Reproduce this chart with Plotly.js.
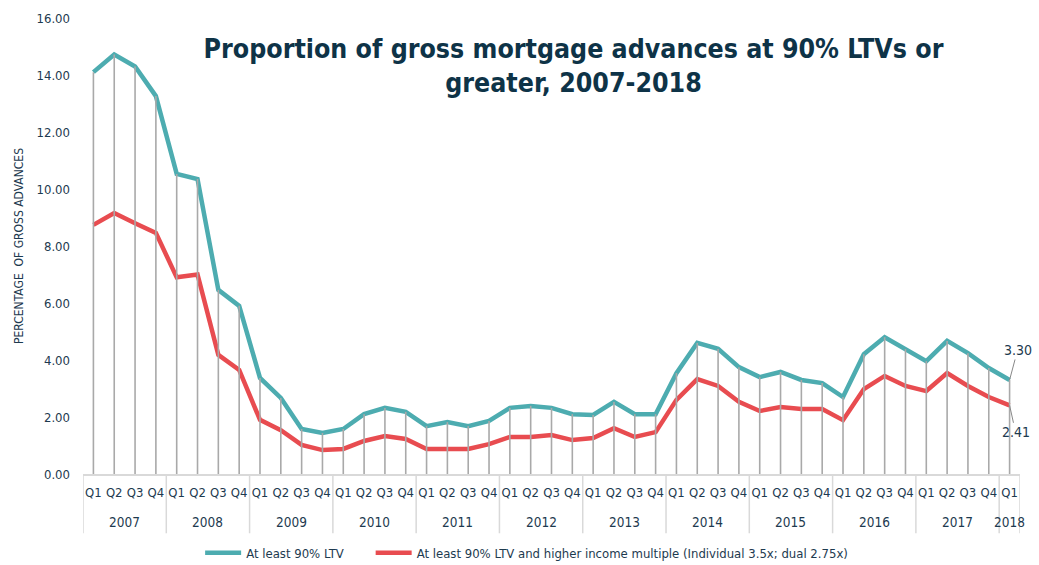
<!DOCTYPE html>
<html>
<head>
<meta charset="utf-8">
<script src="https://cdn.plot.ly/plotly-3.0.1.min.js"></script>
<style>html,body{margin:0;padding:0;background:#fff;}#chart{width:1039px;height:565px;}</style>
</head>
<body>
<div id="chart"></div>
<script>
const years = ["2007","2008","2009","2010","2011","2012","2013","2014","2015","2016","2017","2018"];
const quarters = ["Q1","Q2","Q3","Q4"];
const ltv90 = [14.10,14.72,14.30,13.26, 10.53,10.35,6.46,5.90, 3.37,2.67,1.58,1.44, 1.58,2.10,2.32,2.18,
  1.68,1.82,1.68,1.86, 2.32,2.39,2.32,2.10, 2.07,2.53,2.10,2.10, 3.54,4.60,4.39,3.75,
  3.40,3.58,3.30,3.19, 2.70,4.20,4.80,4.38, 3.96,4.67,4.24,3.72, 3.30];
const ltv90Income = [8.74,9.16,8.80,8.46, 6.90,7.00,4.18,3.65, 1.90,1.54,1.02,0.84, 0.88,1.16,1.33,1.23,
  0.88,0.88,0.88,1.05, 1.30,1.30,1.37,1.19, 1.26,1.61,1.30,1.47, 2.60,3.33,3.09,2.53,
  2.21,2.35,2.28,2.28, 1.89,2.98,3.44,3.09, 2.91,3.54,3.09,2.70, 2.41];
const seriesNames = ["At least 90% LTV", "At least 90% LTV and higher income multiple (Individual 3.5x; dual 2.75x)"];

const n = ltv90.length;
const xIdx = ltv90.map((_, i) => i);
const qLabels = xIdx.map(i => quarters[i % 4]);

const font = 'DejaVu Sans Condensed, DejaVu Sans, sans-serif';
const navy = '#1d3a4f';
const divColor = '#d9d9d9';
const divBottom = -0.13;

// year group labels and dividers derived from the data index
const annotations = [];
const shapes = [];
years.forEach((yr, k) => {
  const first = 4 * k;
  const last = Math.min(4 * k + 3, n - 1);
  annotations.push({x: (first + last) / 2, y: -0.105, xref: 'x', yref: 'paper', text: yr,
    showarrow: false, yanchor: 'middle', font: {family: font, size: 13.5, color: navy}});
  shapes.push({type: 'line', xref: 'x', yref: 'paper', x0: first - 0.5, x1: first - 0.5, y0: 0, y1: divBottom,
    line: {color: divColor, width: 1.5}});
});
shapes.push({type: 'line', xref: 'x', yref: 'paper', x0: n - 0.5, x1: n - 0.5, y0: 0, y1: divBottom,
  line: {color: divColor, width: 1.5}});

annotations.push(
  {x: n - 1, y: ltv90[n-1], xref: 'x', yref: 'y', text: ltv90[n-1].toFixed(2),
   showarrow: true, arrowhead: 0, arrowwidth: 1, arrowcolor: '#888', ax: 8, ay: -30,
   font: {family: font, size: 14, color: navy}},
  {x: n - 1, y: ltv90Income[n-1], xref: 'x', yref: 'y', text: ltv90Income[n-1].toFixed(2),
   showarrow: true, arrowhead: 0, arrowwidth: 1, arrowcolor: '#888', ax: 6, ay: 27,
   font: {family: font, size: 14, color: navy}}
);

const traces = [
  {x: xIdx, y: ltv90, name: seriesNames[0], type: 'scatter', mode: 'lines',
   line: {color: '#4DACB0', width: 4.5}, legend: 'legend'},
  {x: xIdx, y: ltv90Income, name: seriesNames[1], type: 'scatter', mode: 'lines',
   line: {color: '#E84C50', width: 4.5}, legend: 'legend2'},
  {x: xIdx, y: ltv90, type: 'scatter', mode: 'markers', showlegend: false, hoverinfo: 'skip',
   marker: {opacity: 0, size: 1},
   error_y: {type: 'data', symmetric: false, array: ltv90.map(() => 0), arrayminus: ltv90,
     color: '#a9a9a9', thickness: 1.6, width: 0}}
];

const legendBase = {
  orientation: 'h', xanchor: 'left', y: -0.14, yanchor: 'top',
  font: {family: font, size: 13, color: navy}, itemwidth: 36, bgcolor: 'rgba(0,0,0,0)'
};

const layout = {
  width: 1039, height: 565,
  margin: {l: 83, r: 19, t: 18, b: 91, autoexpand: false},
  paper_bgcolor: '#fff', plot_bgcolor: '#fff',
  showlegend: true,
  font: {family: font, color: navy, size: 13},
  title: {
    text: 'Proportion of gross mortgage advances at 90% LTVs or<br>greater, 2007-2018',
    font: {family: font, size: 26.5, color: '#0e3347', weight: 'bold'},
    x: 0.552, xref: 'container', xanchor: 'center',
    y: 1 - 58/565, yref: 'container', yanchor: 'top'
  },
  xaxis: {
    range: [-0.5, n - 0.5],
    tickmode: 'array', tickvals: xIdx, ticktext: qLabels, tickangle: 0,
    showline: true, linecolor: divColor, linewidth: 1.5,
    showgrid: false, ticks: '', zeroline: false, ticklabelstandoff: 6,
    tickfont: {family: font, size: 13, color: navy}
  },
  yaxis: {
    range: [0, 16], dtick: 2, tickformat: '.2f',
    showgrid: false, zeroline: false, showline: false, ticks: '',
    ticklabelstandoff: 12,
    tickfont: {family: font, size: 13, color: navy},
    title: {text: 'PERCENTAGE  OF GROSS ADVANCES', font: {family: font, size: 12, color: navy}, standoff: 10}
  },
  legend: Object.assign({}, legendBase, {x: 0.125}),
  legend2: Object.assign({}, legendBase, {x: 0.307}),
  shapes: shapes,
  annotations: annotations
};

Plotly.newPlot('chart', traces, layout, {displayModeBar: false, staticPlot: true});
</script>
</body>
</html>
